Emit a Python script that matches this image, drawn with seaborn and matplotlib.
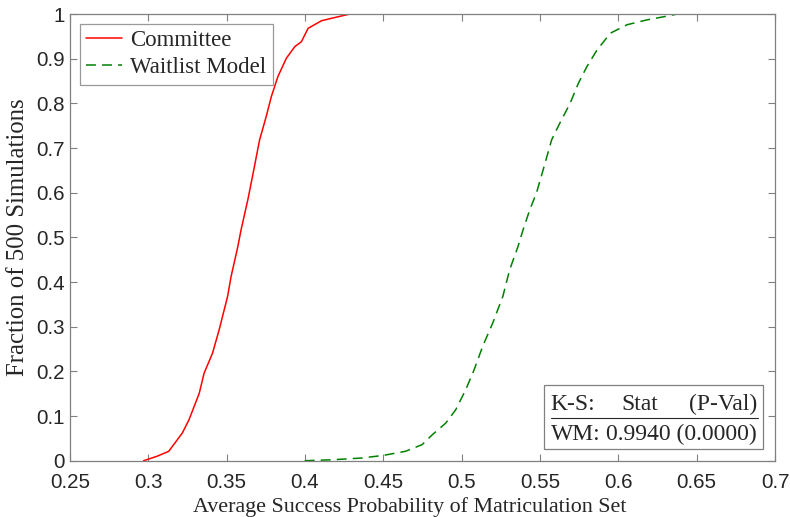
import matplotlib
matplotlib.use("Agg")
import matplotlib.pyplot as plt
import seaborn as sns
import pandas as pd
from matplotlib.patches import Rectangle

# Committee ECDF: (average success probability, fraction of simulations)
committee_x = [0.297, 0.3056, 0.313, 0.3217, 0.326, 0.3325, 0.3356, 0.341, 0.3452,
               0.3506, 0.3528, 0.3571, 0.3592, 0.3635, 0.3677, 0.371, 0.3752, 0.3785,
               0.3827, 0.3881, 0.3935, 0.3977, 0.402, 0.4106, 0.4213, 0.4288]
committee_y = [0.0, 0.01, 0.021, 0.062, 0.092, 0.151, 0.196, 0.241, 0.293,
               0.368, 0.412, 0.479, 0.517, 0.584, 0.658, 0.718, 0.770, 0.815,
               0.860, 0.901, 0.927, 0.938, 0.968, 0.985, 0.994, 1.0]

# Waitlist Model ECDF
waitlist_x = [0.3998, 0.417, 0.4363, 0.4502, 0.4641, 0.4748, 0.4812, 0.4898, 0.4962,
              0.5026, 0.508, 0.5134, 0.5198, 0.5263, 0.5306, 0.5359, 0.5392, 0.5435,
              0.5477, 0.552, 0.5574, 0.5627, 0.5692, 0.5745, 0.5799, 0.5863, 0.5949,
              0.6056, 0.6185, 0.6292, 0.6377]
waitlist_y = [0.0, 0.002, 0.006, 0.012, 0.021, 0.036, 0.058, 0.084, 0.114,
              0.159, 0.204, 0.256, 0.308, 0.368, 0.427, 0.479, 0.517, 0.562,
              0.599, 0.651, 0.718, 0.756, 0.800, 0.845, 0.882, 0.919, 0.957,
              0.976, 0.987, 0.994, 1.0]

x_ticks = [0.25, 0.3, 0.35, 0.4, 0.45, 0.5, 0.55, 0.6, 0.65, 0.7]
x_tick_labels = ["0.25", "0.3", "0.35", "0.4", "0.45", "0.5", "0.55", "0.6", "0.65", "0.7"]
y_ticks = [0, 0.1, 0.2, 0.3, 0.4, 0.5, 0.6, 0.7, 0.8, 0.9, 1]
y_tick_labels = ["0", "0.1", "0.2", "0.3", "0.4", "0.5", "0.6", "0.7", "0.8", "0.9", "1"]

sns.set_style("white")
plt.rcParams['font.family'] = ['Liberation Sans', 'DejaVu Sans']

df_c = pd.DataFrame({"x": committee_x, "y": committee_y})
df_w = pd.DataFrame({"x": waitlist_x, "y": waitlist_y})

fig = plt.figure(figsize=(7.9, 5.17), dpi=100)
ax = fig.add_axes([70/790, (517-460.7)/517, 705/790, 446.7/517])

sns.lineplot(data=df_c, x="x", y="y", ax=ax, color="#ff0000", lw=1.1,
             label="Committee", sort=False, estimator=None)
sns.lineplot(data=df_w, x="x", y="y", ax=ax, color="#008000", lw=1.1,
             label="Waitlist Model", sort=False, estimator=None,
             linestyle=(0, (6.5, 4)))

ax.set_xlim(0.25, 0.7)
ax.set_ylim(0, 1)
ax.set_xticks(x_ticks)
ax.set_xticklabels(x_tick_labels)
ax.set_yticks(y_ticks)
ax.set_yticklabels(y_tick_labels)
ax.tick_params(direction="in", length=5, width=0.8, color="#808080",
               labelsize=14.8, labelcolor="#262626", top=True, right=True,
               bottom=True, left=True)
ax.tick_params(axis="x", pad=9)
ax.tick_params(axis="y", pad=4)
for s in ax.spines.values():
    s.set_color("#808080")
    s.set_linewidth(0.9)

serif = ['Liberation Serif', 'DejaVu Serif']
ax.set_xlabel("Average Success Probability of Matriculation Set",
              family=serif, fontsize=15.8, color="#262626")
ax.xaxis.set_label_coords((409.5 - 70) / 705, -0.082)
ax.xaxis.label.set_va("top")
ax.set_ylabel("Fraction of 500 Simulations",
              family=serif, fontsize=17.8, color="#262626", labelpad=5)

leg = ax.legend(loc="upper left", bbox_to_anchor=(10/705, 1 - 10/446.7),
                borderaxespad=0,
                prop={'family': serif, 'size': 16.5},
                frameon=True, fancybox=False, edgecolor="#808080",
                handlelength=1.55, handletextpad=0.35,
                borderpad=0.28, labelspacing=0.25)
leg.get_frame().set_linewidth(0.9)
for t in leg.get_texts():
    t.set_color("#262626")

# K-S statistics box
fs = 17
ax.add_patch(Rectangle((0.672, 0.026), 0.311, 0.143, transform=ax.transAxes,
                       fill=True, facecolor="white", edgecolor="#808080", lw=0.9, zorder=5))
ax.text(0.682, 0.125, "K-S:", transform=ax.transAxes, family=serif, fontsize=fs,
        va="center", ha="left", color="#262626", zorder=6)
ax.text(0.8085, 0.125, "Stat", transform=ax.transAxes, family=serif, fontsize=fs,
        va="center", ha="center", color="#262626", zorder=6)
ax.text(0.9745, 0.125, "(P-Val)", transform=ax.transAxes, family=serif, fontsize=fs,
        va="center", ha="right", color="#262626", zorder=6)
ax.plot([0.682, 0.976], [0.0956, 0.0956], transform=ax.transAxes, color="#262626",
        lw=0.8, zorder=6)
ax.text(0.682, 0.058, "WM:", transform=ax.transAxes, family=serif, fontsize=fs,
        va="center", ha="left", color="#262626", zorder=6)
ax.text(0.9745, 0.058, "0.9940 (0.0000)", transform=ax.transAxes, family=serif,
        fontsize=fs, va="center", ha="right", color="#262626", zorder=6)

fig.savefig("out.png", dpi=100)
